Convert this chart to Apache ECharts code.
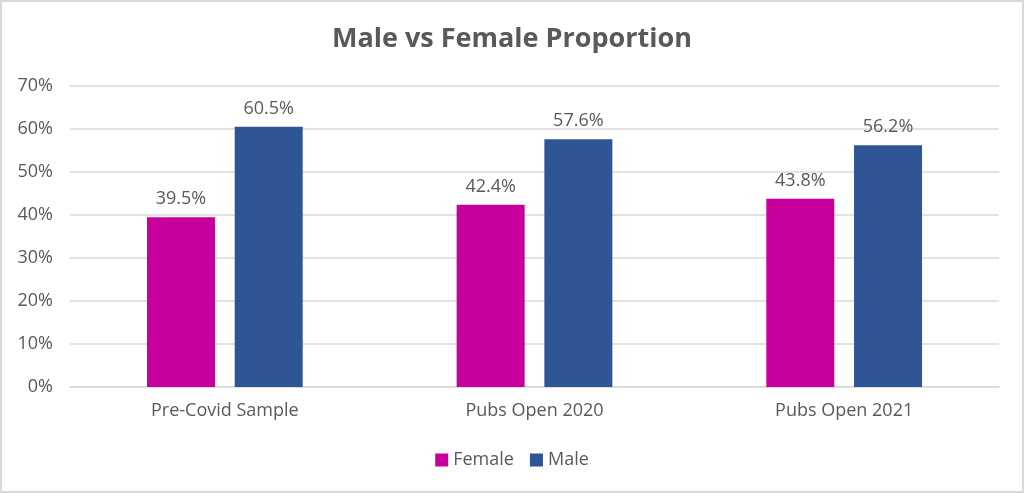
<!DOCTYPE html>
<html><head><meta charset="utf-8">
<script src="https://cdn.jsdelivr.net/npm/echarts@6/dist/echarts.min.js"></script>
<style>html,body{margin:0;padding:0;background:#fff}#c{width:1024px;height:493px;box-sizing:border-box;border:2px solid #d9d9d9}</style>
</head><body><div id="c"></div>
<script>
const categories = ['Pre-Covid Sample', 'Pubs Open 2020', 'Pubs Open 2021'];
const female = [39.5, 42.4, 43.8];
const male = [60.5, 57.6, 56.2];
const yTicks = [0, 10, 20, 30, 40, 50, 60, 70];

const chart = echarts.init(document.getElementById('c'));
const font = '"Open Sans", "Noto Sans", sans-serif';
const lbl = {show:true, position:'top', distance:9, color:'#595959', fontSize:18, fontFamily:font, formatter: p => p.value.toFixed(1) + '%'};
chart.setOption({
  animation:false,
  textStyle:{fontFamily:font},
  title:{text:'Male vs Female Proportion', left:'center', top:19, textStyle:{color:'#595959', fontSize:27, fontWeight:'bold', fontFamily:font}},
  legend:{bottom:17, itemWidth:13, itemHeight:13, itemGap:16, icon:'rect', textStyle:{color:'#595959', fontSize:18, fontFamily:font}, data:['Female','Male']},
  grid:{left:68, right:23, top:84, bottom:104},
  xAxis:{type:'category', data:categories, axisTick:{show:false}, axisLine:{lineStyle:{color:'#d9d9d9', width:1.5}}, axisLabel:{color:'#595959', fontSize:18, margin:15, fontFamily:font}},
  yAxis:{type:'value', min:yTicks[0], max:yTicks[yTicks.length-1], interval:10, axisLine:{show:false}, axisTick:{show:false},
    splitLine:{lineStyle:{color:'#d9d9d9', width:1.5}},
    axisLabel:{color:'#595959', fontSize:18, margin:17, fontFamily:font, formatter: v => v + '%'}},
  series:[
    {name:'Female', type:'bar', data:female, barWidth:68, barGap:'29%', itemStyle:{color:'#C8009B'}, label:lbl},
    {name:'Male', type:'bar', data:male, barWidth:68, itemStyle:{color:'#2F5597'}, label:lbl}
  ]
});
</script></body></html>
